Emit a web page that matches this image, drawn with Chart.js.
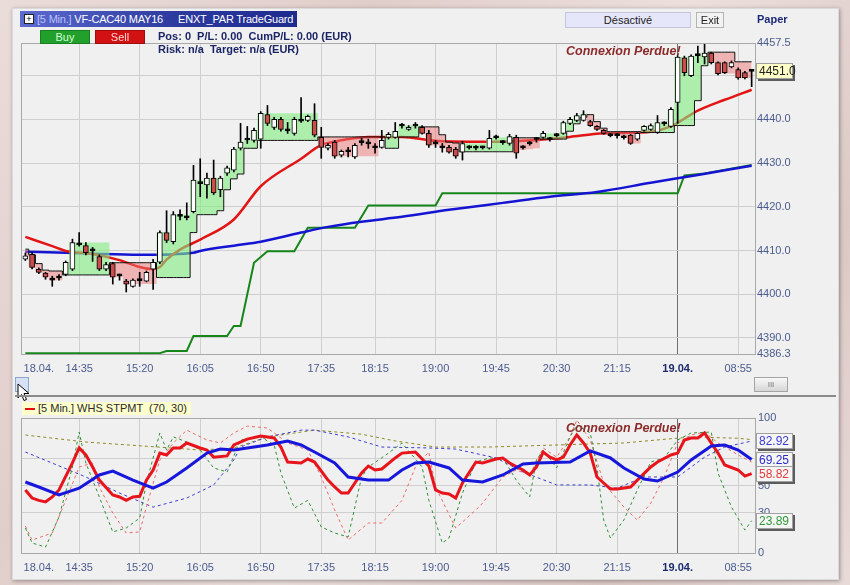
<!DOCTYPE html>
<html lang="fr">
<head>
<meta charset="UTF-8">
<title>VF-CAC40 MAY16 - TradeGuard</title>
<script src="https://cdn.jsdelivr.net/npm/chart.js"></script>
<style>
    body {
        margin: 0;
        width: 850px;
        height: 585px;
        overflow: hidden;
        position: relative;
        background: linear-gradient(125deg, #eadcd9 0%, #e0ceca 30%, #ecdfdc 55%, #dcc9c5 80%, #e8dad7 100%);
        font-family: "Liberation Sans", Arial, sans-serif;
        font-size: 11px;
    }
    #win {
        position: absolute; left: 12px; top: 8px; width: 825px; height: 570px;
        background: #f0f0f0; border: 1px solid #dadada;
        box-shadow: 1px 1px 4px rgba(0,0,0,0.35);
    }
    canvas { position: absolute; left: 0; }
    #top { top: 0; }
    #bottom { top: 398px; }
    .abs { position: absolute; white-space: nowrap; }
    #titlebar {
        left: 20px; top: 11px; width: 277px; height: 16px;
        background: linear-gradient(to right, #5d6bd0, #2d3aa0 55%, #1d2a8e);
        color: #fff; line-height: 16px; overflow: hidden; letter-spacing: -0.2px;
    }
    #titlebar .ico {
        position: absolute; left: 4px; top: 3px; width: 8px; height: 8px;
        border: 1px solid #222; background: #fff; color: #000;
        font-size: 9px; line-height: 8px; text-align: center; letter-spacing: 0;
    }
    #titlebar .dim { color: #b8c2ff; }
    #titlebar .t1 { position: absolute; left: 17px; }
    #titlebar .t2 { position: absolute; left: 158px; }
    .btn { text-align: center; line-height: 12px; height: 12px; }
    #buy { left: 40px; top: 30px; width: 48px; background: #22a02c; color: #d6ffd6; border: 1px solid #168020; }
    #sell { left: 95px; top: 30px; width: 48px; background: #d21212; color: #ffd6d6; border: 1px solid #a00c0c; }
    .info { color: #1c2566; font-weight: bold; }
    #desact { left: 565px; top: 12px; width: 124px; height: 14px; line-height: 14px; text-align: center;
        background: #e6e6fb; border: 1px solid #c4c4dc; color: #222; }
    #exit { left: 696px; top: 12px; width: 26px; height: 14px; line-height: 14px; text-align: center;
        background: #f2f2f2; border: 1px solid #b4b4b4; color: #222; }
    #paper { left: 757px; top: 13px; font-weight: bold; color: #1c2a78; }
    .lost { color: #8c2a2a; font-weight: bold; font-style: italic; font-size: 12.5px; }
    #scrollL { left: 15px; top: 377px; width: 12px; height: 13px; background: #d6e2f4; border: 1px solid #8ea6c8; }
    #scrollR { left: 754px; top: 377px; width: 32px; height: 13px; line-height: 13px; text-align: center;
        background: linear-gradient(#f8f8f8, #d6d6d6); border: 1px solid #a4a4a4; color: #777; font-size: 8px; }
    #sep { left: 15px; top: 395px; width: 821px; height: 2px; background: #8a8a8a; }
    #legend { left: 22px; top: 402px; height: 13px; line-height: 13px; padding: 0 4px 0 16px; background: #ffffcc; color: #2a2a2a; }
    #legend i { position: absolute; left: 3px; top: 6px; width: 10px; height: 2px; background: #e01010; }
    #cursor { left: 17px; top: 383px; }
</style>
</head>
<body>
<div id="win"></div>
<canvas id="top" width="850" height="376"></canvas>
<canvas id="bottom" width="850" height="180"></canvas>

<div id="titlebar" class="abs"><span class="ico">+</span><span class="t1"><span class="dim">[5 Min.]</span> VF-CAC40 MAY16</span><span class="t2">ENXT_PAR TradeGuard</span></div>
<div id="buy" class="abs btn">Buy</div>
<div id="sell" class="abs btn">Sell</div>
<div class="abs info" style="left:158px;top:30px">Pos: 0 &nbsp;P/L: 0.00 &nbsp;CumP/L: 0.00 (EUR)</div>
<div class="abs info" style="left:158px;top:43px">Risk: n/a &nbsp;Target: n/a (EUR)</div>
<div id="desact" class="abs">Désactivé</div>
<div id="exit" class="abs">Exit</div>
<div id="paper" class="abs">Paper</div>
<div class="abs lost" style="left:566px;top:44px">Connexion Perdue!</div>
<div id="scrollL" class="abs"></div>
<div id="scrollR" class="abs">III</div>
<svg id="cursor" class="abs" width="14" height="20"><path d="M1 1 L1 15 L4.5 11.5 L7 17.5 L9.5 16.5 L7 10.5 L12 10.5 Z" fill="#fff" stroke="#000" stroke-width="1"/></svg>
<div id="sep" class="abs"></div>
<div id="legend" class="abs"><i></i>[5 Min.] WHS STPMT &nbsp;(70, 30)</div>
<div class="abs lost" style="left:566px;top:421px">Connexion Perdue!</div>

<script>
    // x axis: one step = one 5 min bar
    const xTickIdx  = [2, 8, 17, 26, 35, 44, 52, 61, 70, 79, 88, 97, 106];
    const xTickText = ['18.04.', '14:35', '15:20', '16:05', '16:50', '17:35', '18:15', '19:00', '19:45', '20:30', '21:15', '19.04.', '08:55'];
    const dayBreak = 97;

    const priceTicks = [4386.3, 4390, 4400, 4410, 4420, 4430, 4440, 4450, 4457.5];
    const oscTicks = [0, 30, 50, 70, 100];

    // candles, bar 0..108
    const opens = [
        4408.0, 4409.1, 4405.7, 4404.8, 4403.4, 4403.7, 4404.5, 4405.7, 4411.6, 4411.1,
        4410.1, 4408.6, 4405.7, 4407.0, 4404.4, 4403.0, 4401.8, 4403.3, 4403.0, 4405.7,
        4407.3, 4414.1, 4412.0, 4418.0, 4417.7, 4418.9, 4425.5, 4425.0, 4426.6, 4423.9,
        4427.7, 4428.4, 4433.4, 4435.5, 4435.2, 4435.5, 4441.1, 4438.2, 4440.0, 4437.6,
        4436.8, 4439.8, 4439.8, 4439.8, 4435.9, 4433.4, 4434.8, 4431.8, 4432.8, 4431.4,
        4434.9, 4434.6, 4433.7, 4433.6, 4435.9, 4435.9, 4438.7, 4437.7, 4438.7, 4438.2,
        4436.8, 4434.6, 4433.7, 4433.6, 4433.2, 4432.5, 4433.7, 4433.6, 4433.7, 4433.4,
        4436.0, 4434.9, 4434.5, 4435.9, 4433.7, 4434.6, 4435.6, 4435.9, 4435.6, 4436.5,
        4436.8, 4439.1, 4439.8, 4439.8, 4439.5, 4438.4, 4437.5, 4436.5, 4436.5, 4436.0,
        4436.4, 4435.5, 4437.5, 4437.7, 4437.0, 4439.2, 4438.4, 4443.9, 4454.1, 4450.0,
        4454.8, 4454.3, 4455.2, 4453.0, 4453.0, 4452.0, 4451.4, 4450.7, 4451.1
    ];
    const highs = [
        4409.4, 4409.5, 4406.0, 4405.0, 4404.1, 4404.5, 4407.6, 4412.6, 4414.1, 4411.8,
        4410.7, 4409.0, 4407.3, 4407.3, 4404.6, 4403.4, 4403.5, 4405.0, 4405.3, 4408.0,
        4414.5, 4419.1, 4418.9, 4419.3, 4420.9, 4429.5, 4431.0, 4427.7, 4430.7, 4427.0,
        4429.3, 4433.6, 4439.1, 4438.4, 4438.0, 4441.8, 4443.2, 4440.5, 4440.5, 4439.3,
        4440.5, 4445.0, 4441.0, 4443.6, 4438.2, 4434.5, 4435.2, 4433.0, 4433.6, 4434.5,
        4435.7, 4435.5, 4434.5, 4437.5, 4437.0, 4439.3, 4439.1, 4438.6, 4439.3, 4438.6,
        4437.5, 4435.2, 4434.5, 4434.1, 4433.6, 4435.0, 4434.0, 4434.0, 4433.9, 4437.5,
        4436.4, 4435.2, 4436.6, 4436.4, 4434.0, 4435.0, 4435.9, 4437.3, 4435.9, 4436.8,
        4439.6, 4440.5, 4441.4, 4442.0, 4439.8, 4438.6, 4437.7, 4436.8, 4436.8, 4436.4,
        4436.6, 4437.0, 4438.6, 4439.0, 4440.9, 4439.5, 4442.7, 4454.6, 4454.5, 4454.8,
        4456.8, 4457.3, 4455.4, 4453.2, 4453.2, 4453.4, 4451.8, 4451.0, 4451.4
    ];
    const lows = [
        4407.7, 4405.8, 4404.7, 4403.4, 4401.8, 4403.2, 4404.2, 4405.4, 4411.0, 4409.0,
        4407.5, 4405.4, 4405.4, 4402.3, 4403.2, 4400.5, 4401.6, 4401.8, 4402.8, 4401.1,
        4407.0, 4411.8, 4411.5, 4417.0, 4417.0, 4418.6, 4422.3, 4422.0, 4422.8, 4422.3,
        4427.2, 4428.0, 4433.0, 4434.5, 4434.8, 4433.4, 4438.6, 4437.7, 4437.3, 4436.8,
        4436.4, 4439.3, 4439.5, 4436.0, 4431.1, 4433.0, 4431.1, 4431.4, 4431.4, 4431.1,
        4434.1, 4433.4, 4432.3, 4433.4, 4435.5, 4435.7, 4438.0, 4437.5, 4438.0, 4436.6,
        4433.6, 4433.6, 4432.5, 4432.3, 4431.1, 4430.7, 4433.2, 4433.0, 4433.2, 4433.2,
        4435.5, 4434.3, 4434.1, 4431.1, 4433.2, 4434.1, 4434.8, 4435.7, 4435.0, 4436.0,
        4436.6, 4438.8, 4439.5, 4439.6, 4438.4, 4437.5, 4436.6, 4436.0, 4435.7, 4435.5,
        4434.3, 4435.2, 4437.3, 4437.5, 4436.8, 4438.6, 4438.2, 4439.1, 4450.0, 4449.8,
        4453.0, 4452.7, 4452.7, 4450.2, 4450.5, 4451.8, 4449.2, 4449.3, 4447.5
    ];
    const closes = [
        4408.8, 4406.1, 4405.0, 4403.9, 4403.2, 4403.9, 4407.3, 4411.8, 4411.3, 4409.5,
        4409.9, 4405.7, 4406.8, 4403.9, 4404.2, 4402.3, 4403.2, 4403.1, 4405.0, 4407.3,
        4414.1, 4412.3, 4418.2, 4417.8, 4417.5, 4426.1, 4425.3, 4426.6, 4423.2, 4426.6,
        4428.9, 4433.2, 4434.8, 4435.3, 4437.5, 4441.4, 4439.1, 4440.0, 4437.7, 4437.4,
        4440.0, 4439.6, 4440.7, 4436.4, 4433.6, 4434.1, 4431.6, 4432.7, 4432.6, 4434.1,
        4434.7, 4434.4, 4433.5, 4435.2, 4436.6, 4437.3, 4438.5, 4438.2, 4438.5, 4436.8,
        4434.1, 4434.4, 4433.5, 4432.5, 4431.6, 4434.5, 4433.5, 4433.4, 4433.5, 4435.7,
        4435.8, 4434.7, 4436.1, 4432.3, 4433.5, 4434.4, 4435.4, 4436.8, 4435.4, 4436.3,
        4439.3, 4440.0, 4440.9, 4441.1, 4438.6, 4437.7, 4436.8, 4436.3, 4436.3, 4435.8,
        4434.5, 4436.8, 4438.4, 4438.6, 4439.3, 4439.0, 4442.3, 4454.3, 4450.7, 4454.5,
        4454.6, 4455.2, 4453.0, 4450.5, 4450.7, 4453.0, 4449.5, 4449.5, 4451.0
    ];

    // TradeGuard stop (black line) and best price since entry
    const guardStop = [
        4410.3, 4409.0, 4407.0, 4405.5, 4405.3, 4405.3, 4404.4, 4404.4, 4404.4, 4404.4,
        4404.4, 4404.4, 4404.4, 4407.2, 4407.2, 4407.2, 4407.2, 4407.2, 4407.2, 4407.2,
        4403.8, 4403.8, 4403.8, 4403.8, 4403.8, 4414.1, 4418.2, 4418.2, 4418.2, 4419.1,
        4423.9, 4426.4, 4427.5, 4433.4, 4433.4, 4435.2, 4435.2, 4435.2, 4435.2, 4435.2,
        4435.2, 4435.2, 4435.2, 4435.2, 4436.0, 4436.0, 4436.0, 4436.0, 4436.0, 4436.0,
        4436.0, 4436.0, 4436.0, 4436.0, 4433.4, 4433.4, 4436.0, 4436.0, 4436.0, 4438.3,
        4438.3, 4438.3, 4436.5, 4434.8, 4434.6, 4432.6, 4432.6, 4432.6, 4432.6, 4432.6,
        4432.6, 4432.6, 4432.6, 4435.8, 4435.8, 4435.8, 4435.8, 4435.5, 4435.5, 4435.5,
        4435.5, 4437.3, 4439.0, 4440.5, 4441.1, 4439.5, 4438.0, 4437.2, 4437.2, 4437.2,
        4437.2, 4437.2, 4437.0, 4437.0, 4437.0, 4437.0, 4437.0, 4438.6, 4438.6, 4438.6,
        4444.3, 4452.3, 4455.4, 4455.4, 4455.4, 4455.4, 4453.2, 4453.2, 4453.2
    ];
    const guardBest = [
        4408.8, 4406.1, 4405.0, 4403.9, 4403.2, 4403.2, 4407.3, 4411.8, 4411.8, 4411.8,
        4411.8, 4411.8, 4411.8, 4403.9, 4403.9, 4402.3, 4402.3, 4402.3, 4402.3, 4402.3,
        4414.1, 4414.1, 4418.2, 4418.2, 4418.2, 4426.1, 4426.1, 4426.6, 4426.6, 4426.6,
        4428.9, 4433.2, 4434.8, 4435.3, 4437.5, 4441.4, 4441.4, 4441.4, 4441.4, 4441.4,
        4441.4, 4441.4, 4441.4, 4441.4, 4433.6, 4433.6, 4431.6, 4431.6, 4431.6, 4431.6,
        4431.6, 4431.6, 4431.6, 4436.0, 4436.6, 4437.3, 4438.6, 4438.6, 4438.6, 4436.8,
        4434.1, 4434.1, 4433.6, 4432.5, 4431.6, 4434.5, 4434.5, 4434.5, 4434.5, 4435.7,
        4435.9, 4435.9, 4436.1, 4432.5, 4433.0, 4433.2, 4433.4, 4436.8, 4436.8, 4436.8,
        4439.3, 4440.0, 4440.9, 4441.3, 4438.6, 4437.7, 4436.8, 4436.4, 4436.4, 4435.9,
        4434.5, 4434.5, 4438.4, 4438.6, 4439.3, 4439.3, 4442.3, 4454.3, 4454.3, 4454.5,
        4454.6, 4455.2, 4453.0, 4450.5, 4450.5, 4450.5, 4449.5, 4449.5, 4449.5
    ];

    // moving averages / trailing line: [bar, value]
    const maFast = [[0, 4413.1], [4, 4411.0], [6, 4409.9], [10, 4409.2], [14, 4407.8], [17, 4406.2],
        [19, 4405.7], [20, 4406.2], [21, 4407.9], [23, 4410.2], [26, 4412.5], [31, 4417.1], [35, 4424.7],
        [41, 4431.0], [44, 4434.2], [45, 4434.6], [48, 4435.5], [51, 4436.0], [56, 4436.0], [61, 4435.1],
        [66, 4434.9], [71, 4434.9], [76, 4435.3], [81, 4436.0], [85, 4436.7], [88, 4436.9], [93, 4437.2],
        [96, 4438.4], [98, 4440.2], [100, 4442.0], [104, 4444.5], [108, 4446.8]];
    const maSlow = [[0, 4409.7], [6, 4409.5], [11, 4409.2], [17, 4409.0], [25, 4409.5], [26, 4409.9],
        [31, 4411.1], [35, 4412.0], [41, 4414.1], [45, 4415.4], [50, 4416.6], [56, 4417.7], [63, 4419.3],
        [71, 4420.9], [78, 4422.3], [85, 4423.4], [93, 4425.5], [100, 4427.3], [108, 4429.4]];
    const trailLine = [[0, 4386.5], [20, 4386.5], [21, 4387.0], [24, 4387.0], [25, 4390.4], [30, 4390.4],
        [31, 4392.7], [32, 4392.7], [34, 4407.2], [36, 4409.8], [40, 4409.8], [42, 4415.2], [49, 4415.2],
        [51, 4420.3], [61, 4420.3], [62, 4423.1], [97, 4423.1], [98, 4427.2], [101, 4427.6], [108, 4429.6]];

    // WHS STPMT (70, 30): [bar, value]
    const stpmt = [[0, 46.7], [1, 40.7], [2, 39.0], [3, 37.8], [4, 41.5], [5, 46.7], [7, 66.7], [8, 77.8],
        [9, 72.6], [10, 63.7], [11, 54.0], [13, 43.0], [14, 41.5], [15, 39.0], [16, 41.5], [17, 42.0],
        [18, 54.0], [19, 61.5], [20, 74.0], [21, 72.6], [22, 77.8], [23, 77.8], [24, 81.5], [26, 77.8],
        [27, 76.3], [28, 71.0], [30, 71.9], [31, 80.0], [33, 84.4], [35, 86.7], [37, 85.2], [38, 78.5],
        [39, 67.4], [41, 66.7], [42, 69.6], [43, 67.4], [45, 54.0], [46, 48.9], [47, 44.4], [48, 44.4],
        [50, 59.3], [51, 64.4], [52, 61.5], [53, 62.2], [55, 70.4], [56, 74.0], [58, 74.8], [60, 64.5],
        [61, 46.7], [62, 44.4], [63, 43.7], [64, 40.7], [65, 51.9], [67, 67.4], [68, 66.7], [70, 69.6],
        [71, 70.4], [72, 66.7], [74, 61.5], [75, 57.8], [76, 63.7], [77, 74.8], [78, 71.0], [79, 68.9],
        [80, 71.0], [81, 80.0], [82, 87.4], [83, 81.5], [84, 74.0], [85, 56.3], [87, 47.4], [88, 47.4],
        [90, 48.9], [91, 54.0], [93, 63.7], [94, 67.4], [96, 72.6], [97, 74.0], [98, 83.7], [99, 85.2],
        [100, 85.2], [101, 88.9], [103, 74.0], [104, 65.2], [106, 61.5], [107, 57.0], [108, 58.82]];
    const stpmtAvg = [[0, 52.6], [2, 48.9], [5, 43.0], [8, 48.0], [11, 57.8], [13, 60.7], [16, 54.0],
        [19, 48.0], [21, 52.6], [24, 63.0], [27, 74.0], [29, 77.0], [31, 76.3], [34, 78.5], [36, 80.0],
        [39, 83.0], [41, 80.0], [43, 74.8], [46, 66.7], [48, 56.3], [51, 54.0], [54, 54.0], [56, 61.5],
        [58, 66.7], [60, 67.4], [63, 63.0], [65, 54.0], [68, 52.6], [71, 57.8], [74, 65.9], [76, 66.7],
        [81, 67.4], [84, 75.6], [87, 70.4], [89, 63.0], [92, 54.8], [94, 53.3], [97, 60.0], [99, 68.9],
        [102, 79.3], [104, 80.0], [106, 76.3], [108, 69.25]];
    const stoFast = [[0, 18.5], [1, 7.4], [3, 4.4], [5, 26.7], [7, 63.7], [8, 89.6], [9, 66.7], [11, 41.5],
        [13, 15.6], [15, 18.5], [17, 25.9], [18, 51.9], [20, 88.9], [21, 76.3], [22, 86.0], [24, 82.2],
        [26, 76.3], [28, 63.0], [30, 60.0], [32, 83.7], [35, 86.0], [37, 80.0], [38, 59.3], [40, 33.3],
        [42, 39.0], [44, 19.3], [46, 14.8], [48, 11.9], [50, 56.3], [51, 63.7], [54, 74.0], [56, 81.5],
        [59, 63.7], [60, 39.0], [62, 7.4], [63, 11.1], [65, 44.4], [67, 67.4], [69, 70.4], [71, 70.4],
        [73, 54.0], [75, 41.5], [76, 68.9], [77, 76.3], [79, 63.0], [81, 86.0], [82, 94.8], [84, 88.9],
        [85, 63.7], [86, 24.4], [87, 11.1], [89, 24.4], [91, 46.7], [93, 67.4], [95, 70.4], [97, 83.7],
        [99, 88.9], [102, 89.6], [103, 59.3], [105, 34.0], [107, 17.0], [108, 23.89]];
    const stoMid = [[0, 20.0], [1, 9.6], [4, 14.8], [6, 39.0], [8, 63.7], [10, 66.7], [11, 48.9], [13, 29.6],
        [15, 14.8], [17, 15.6], [18, 34.0], [20, 68.9], [22, 81.5], [24, 91.0], [27, 83.7], [29, 81.5],
        [31, 88.9], [33, 94.0], [36, 92.6], [39, 81.5], [42, 76.3], [44, 56.3], [46, 31.9], [48, 9.6],
        [51, 22.2], [53, 22.2], [56, 39.0], [58, 63.7], [60, 74.8], [61, 48.9], [64, 18.5], [67, 31.9],
        [68, 37.0], [71, 56.3], [73, 61.5], [75, 57.8], [77, 77.8], [79, 71.0], [81, 86.0], [82, 98.5],
        [84, 83.7], [86, 51.9], [89, 34.0], [91, 24.4], [93, 37.0], [95, 56.3], [97, 81.5], [99, 87.4],
        [101, 89.6], [103, 81.5], [106, 72.6], [108, 67.4]];
    const stoSlow = [[0, 74.8], [9, 56.3], [14, 44.4], [19, 34.0], [24, 40.7], [28, 50.4], [31, 68.9],
        [32, 78.5], [36, 86.0], [41, 91.0], [43, 91.0], [48, 86.0], [53, 78.5], [60, 77.8], [64, 77.0],
        [70, 70.4], [74, 60.0], [79, 50.4], [84, 50.4], [88, 48.0], [92, 56.3], [97, 56.3], [101, 71.0],
        [104, 78.5], [108, 82.92]];
    const stoLong = [[0, 87.4], [9, 82.2], [26, 76.3], [31, 77.8], [36, 86.0], [43, 91.0], [50, 88.0],
        [55, 83.0], [61, 78.5], [69, 78.5], [89, 81.5], [99, 86.0], [106, 85.0], [108, 84.0]];

    Chart.defaults.font.family = '"Liberation Sans", Arial, sans-serif';
    Chart.defaults.font.size = 11;
    Chart.defaults.animation = false;

    const axisColor = '#4b5b8f';
    const pts = arr => arr.map(([i, v]) => ({x: i, y: v}));
    const lastOf = arr => arr[arr.length - 1][1];

    // frame round the plot
    const plotFrame = {
        id: 'plotFrame',
        afterDatasetsDraw(chart) {
            const a = chart.chartArea, ctx = chart.ctx;
            ctx.save();
            ctx.strokeStyle = '#a9a9a9';
            ctx.lineWidth = 1;
            ctx.strokeRect(Math.round(a.left) - 0.5, Math.round(a.top) + 0.5, Math.round(a.right - a.left) + 1, Math.round(a.bottom - a.top));
            ctx.restore();
        }
    };

    // last value boxes on the right axis
    const valueTags = {
        id: 'valueTags',
        afterDraw(chart, args, opts) {
            const {ctx, chartArea} = chart;
            const y = chart.scales.y;
            (opts.tags || []).forEach(t => {
                const py = Math.round(y.getPixelForValue(t.value));
                const x = Math.round(chartArea.right) + 1, w = 37, h = 16, top = py - 8;
                ctx.save();
                ctx.fillStyle = '#5c5c5c';
                ctx.fillRect(x + 2, top + 2, w, h);
                ctx.fillStyle = t.bg;
                ctx.fillRect(x, top, w, h);
                ctx.strokeStyle = '#a0a0a0';
                ctx.strokeRect(x + 0.5, top + 0.5, w - 1, h - 1);
                ctx.fillStyle = t.color;
                ctx.font = '12px "Liberation Sans", Arial, sans-serif';
                ctx.textBaseline = 'middle';
                ctx.fillText(t.text, x + 3, py + 1);
                ctx.restore();
            });
        }
    };

    function timeAxis(height) {
        return {
            type: 'linear',
            min: -0.5,
            max: 108.5,
            offset: false,
            afterBuildTicks: s => { s.ticks = xTickIdx.map(v => ({value: v})); },
            afterFit: s => { s.height = height; },
            grid: {
                offset: false,
                drawTicks: false,
                color: c => c.tick && c.tick.value === dayBreak ? '#6e6e6e' : (c.tick && c.tick.value === xTickIdx[0] ? 'rgba(0,0,0,0)' : '#cfcfcf')
            },
            border: {display: false},
            ticks: {
                autoSkip: false,
                maxRotation: 0,
                padding: 8,
                callback: v => xTickText[xTickIdx.indexOf(v)],
                color: c => c.tick && c.tick.value === dayBreak ? '#1c2a6e' : axisColor,
                font: c => ({weight: c.tick && c.tick.value === dayBreak ? 'bold' : 'normal', size: 11})
            }
        };
    }

    function valueAxis(min, max, tickList, fmt, pad) {
        return {
            type: 'linear',
            position: 'right',
            min: min,
            max: max,
            beginAtZero: false,
            afterBuildTicks: s => { s.ticks = tickList.map(v => ({value: v})); },
            afterFit: s => { s.width = 95; },
            grid: {drawTicks: false, color: '#cfcfcf'},
            border: {display: false},
            ticks: {padding: pad, color: axisColor, callback: fmt}
        };
    }

    const bars = closes.map((c, i) => i);
    const bodyColors = bars.map(i => Math.abs(closes[i] - opens[i]) < 0.35 ? '#000000' : (closes[i] > opens[i] ? '#ffffff' : '#cd4c4c'));

    new Chart(document.getElementById('top'), {
        type: 'line',
        data: {
            datasets: [
                {
                    type: 'bar', order: 0, grouped: false,
                    data: bars.map(i => ({x: i, y: [opens[i], closes[i]]})),
                    backgroundColor: bodyColors, borderColor: '#000', borderWidth: 1,
                    borderSkipped: false, barThickness: 5, minBarLength: 2
                },
                {
                    type: 'bar', order: 1, grouped: false,
                    data: bars.map(i => ({x: i, y: [lows[i], highs[i]]})),
                    backgroundColor: '#000', borderWidth: 0, barThickness: 1
                },
                {
                    order: 2,
                    data: bars.map(i => ({x: i, y: guardStop[i]})),
                    borderColor: '#111', borderWidth: 1, pointRadius: 0, stepped: 'middle', fill: false
                },
                {
                    order: 3,
                    data: bars.map(i => ({x: i, y: guardBest[i]})),
                    borderWidth: 0, borderColor: 'rgba(0,0,0,0)', pointRadius: 0, stepped: 'middle',
                    fill: {target: 2, above: 'rgba(128,236,128,0.6)', below: 'rgba(238,118,118,0.5)'}
                },
                {
                    order: 4, data: pts(maFast), borderColor: '#e21414', borderWidth: 2.5,
                    pointRadius: 0, cubicInterpolationMode: 'monotone', fill: false
                },
                {
                    order: 5, data: pts(maSlow), borderColor: '#1414d2', borderWidth: 2.5,
                    pointRadius: 0, cubicInterpolationMode: 'monotone', fill: false
                },
                {
                    order: 6, data: pts(trailLine), borderColor: '#17861a', borderWidth: 2,
                    pointRadius: 0, fill: false
                }
            ]
        },
        options: {
            responsive: false,
            events: [],
            layout: {padding: {left: 22, top: 43, right: 0, bottom: 0}},
            scales: {
                x: timeAxis(22),
                y: valueAxis(4386.3, 4457.5, priceTicks, v => v.toFixed(1), 2)
            },
            plugins: {
                legend: {display: false},
                tooltip: {enabled: false},
                valueTags: {tags: [{value: closes[closes.length - 1], text: closes[closes.length - 1].toFixed(1), color: '#222', bg: '#ffffc8'}]}
            }
        },
        plugins: [plotFrame, valueTags]
    });

    const dashed = (arr, color, order) => ({
        order: order, data: pts(arr), borderColor: color, borderWidth: 1, borderDash: [3, 3],
        pointRadius: 0, fill: false
    });

    new Chart(document.getElementById('bottom'), {
        type: 'line',
        data: {
            datasets: [
                {order: 0, data: pts(stpmtAvg), borderColor: '#1717dc', borderWidth: 3, pointRadius: 0, fill: false},
                {order: 1, data: pts(stpmt), borderColor: '#e8141c', borderWidth: 3, pointRadius: 0, fill: false},
                dashed(stoFast, '#2f8f35', 2),
                dashed(stoMid, '#ee6a6a', 3),
                dashed(stoSlow, '#3c3cd0', 4),
                dashed(stoLong, '#8c8a22', 5)
            ]
        },
        options: {
            responsive: false,
            events: [],
            layout: {padding: {left: 22, top: 20, right: 0, bottom: 0}},
            scales: {
                x: timeAxis(25),
                y: valueAxis(0, 100, oscTicks, v => String(v), 3)
            },
            plugins: {
                legend: {display: false},
                tooltip: {enabled: false},
                valueTags: {tags: [
                    {value: lastOf(stoSlow), text: lastOf(stoSlow).toFixed(2), color: '#3a3ad0', bg: '#f6f6f6'},
                    {value: lastOf(stpmtAvg), text: lastOf(stpmtAvg).toFixed(2), color: '#2a2ac8', bg: '#f6f6f6'},
                    {value: lastOf(stpmt), text: lastOf(stpmt).toFixed(2), color: '#e23a3a', bg: '#f6f6f6'},
                    {value: lastOf(stoFast), text: lastOf(stoFast).toFixed(2), color: '#2f9a35', bg: '#f6f6f6'}
                ]}
            }
        },
        plugins: [plotFrame, valueTags]
    });
</script>
</body>
</html>
